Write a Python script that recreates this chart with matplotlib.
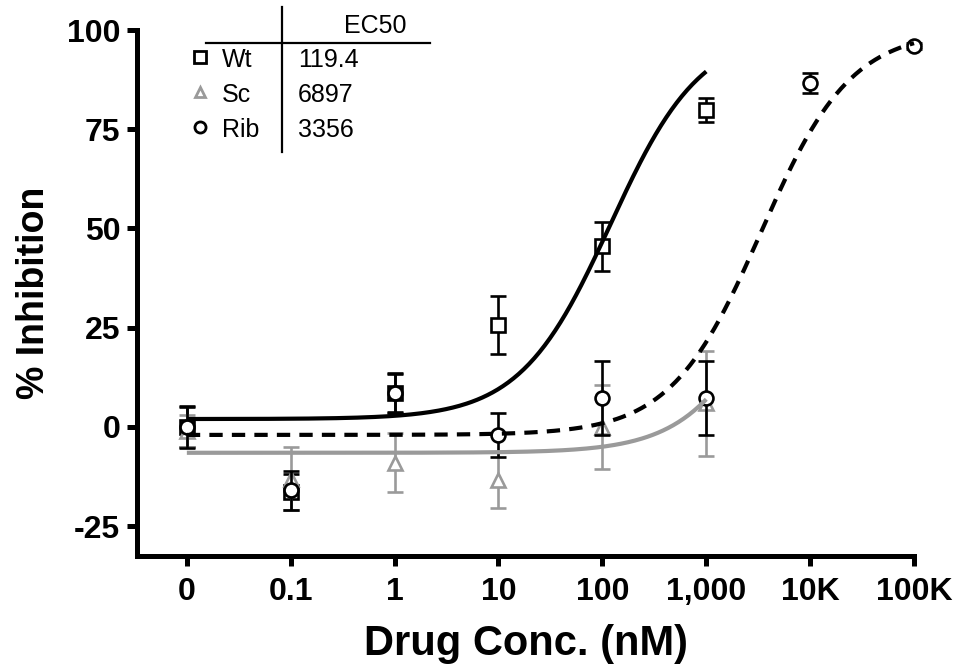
import numpy as np
import matplotlib
matplotlib.use("Agg")
import matplotlib.pyplot as plt
from matplotlib.lines import Line2D

# ---------------- data ----------------
conc = [0.01, 0.1, 1, 10, 100, 1000, 1e4, 1e5]          # "0" plotted at 0.01
tick_labels = ["0", "0.1", "1", "10", "100", "1,000", "10K", "100K"]

wt_conc = [0.01, 0.1, 1, 10, 100, 1000]
wt_mean = [0.0, -16.4, 8.5, 25.7, 45.5, 79.8]
wt_err = [5.0, 4.6, 4.8, 7.2, 6.2, 3.0]

sc_conc = [0.01, 0.1, 1, 10, 100, 1000]
sc_mean = [-1.0, -13.0, -9.0, -13.4, 0.0, 6.0]
sc_err = [4.0, 8.0, 7.5, 7.0, 10.5, 13.2]

rib_conc = [0.01, 0.1, 1, 10, 100, 1000, 1e4, 1e5]
rib_mean = [0.0, -16.0, 8.5, -2.0, 7.2, 7.3, 86.6, 96.0]
rib_err = [5.2, 4.8, 5.0, 5.6, 9.3, 9.3, 2.5, 0.8]

names = ["Wt", "Sc", "Rib"]
ec50 = [119.4, 6897, 3356]
ec50_text = ["119.4", "6897", "3356"]
fit_bottom = [2.0, -6.5, -2.0]
fit_top = [100.0, 100.0, 100.0]
fit_hill = [1.0, 1.0, 1.0]
fit_max_conc = [1000, 1000, 1e5]

# ---------------- style ----------------
GRAY = "#9a9a9a"
colors = ["black", GRAY, "black"]
markers = ["s", "^", "o"]
linestyles = ["-", "-", (0, (3.2, 2.2))]

W, H = 963, 672
fig = plt.figure(figsize=(W / 100, H / 100), dpi=100)
L, R, T, B = 137, 914, 30, 556
ax = fig.add_axes([L / W, 1 - B / H, (R - L) / W, (B - T) / H])

bold_font = ["Liberation Sans", "DejaVu Sans"]
reg_font = ["Liberation Sans", "DejaVu Sans"]

def logistic(x, b, t, ec, h):
    return b + (t - b) / (1 + 10 ** ((np.log10(ec) - np.log10(x)) * h))

series = [(sc_conc, sc_mean, sc_err, 1), (rib_conc, rib_mean, rib_err, 2), (wt_conc, wt_mean, wt_err, 0)]
for xs, ys, es, i in series:
    cont = ax.errorbar(xs, ys, yerr=es, fmt=markers[i], color=colors[i], mfc="white",
                       mec=colors[i], ms=10 if i != 1 else 10.5, mew=1.9, ecolor=colors[i],
                       elinewidth=1.9, capsize=6, capthick=1.9, zorder=3 + i)
    for art in cont.get_children():
        art.set_clip_on(False)
    xx = np.logspace(-2, np.log10(fit_max_conc[i]), 300)
    ax.plot(xx, logistic(xx, fit_bottom[i], fit_top[i], ec50[i], fit_hill[i]),
            color=colors[i], lw=3.0, ls=linestyles[i], zorder=6 + i,
            solid_capstyle="butt", dash_capstyle="butt", clip_on=False)

ax.set_xscale("log")
ax.set_xlim(10 ** -2.48, 1e5)
ax.set_ylim(-32.5, 100)
ax.set_xticks(conc)
ax.set_xticklabels(tick_labels)
ax.minorticks_off()
ax.set_yticks([-25, 0, 25, 50, 75, 100])
ax.set_yticklabels(["-25", "0", "25", "50", "75", "100"])
for s in ["top", "right"]:
    ax.spines[s].set_visible(False)
for s in ["left", "bottom"]:
    ax.spines[s].set_linewidth(3.6)
    ax.spines[s].set_capstyle("projecting")
ax.tick_params(axis="both", direction="out", length=7, width=3.6, pad=5)
ax.tick_params(axis="x", pad=8)
for lab in ax.get_xticklabels() + ax.get_yticklabels():
    lab.set_fontfamily(bold_font)
    lab.set_fontweight("bold")
    lab.set_fontsize(23)
ax.set_xlabel("Drug Conc. (nM)", fontfamily=bold_font, fontweight="bold", fontsize=30, labelpad=12)
ax.set_ylabel("% Inhibition", fontfamily=bold_font, fontweight="bold", fontsize=27, labelpad=11)

# ---------------- legend table (figure pixel coords) ----------------
def fx(x):
    return x / W

def fy(y):
    return 1 - y / H

fig.add_artist(Line2D([fx(282), fx(282)], [fy(7), fy(152)], color="black", lw=1.6))
fig.add_artist(Line2D([fx(206), fx(430)], [fy(43), fy(43)], color="black", lw=1.6))
fig.text(fx(375), fy(26), "EC50", ha="center", va="center", fontsize=18, fontfamily=reg_font)
row_y = [60, 95, 130]
for i in range(3):
    fig.add_artist(Line2D([fx(200)], [fy(row_y[i] - 3)], marker=markers[i], ms=8 if i != 1 else 7,
                          mfc="white", mec=colors[i], mew=2.0, ls="none"))
    fig.text(fx(222), fy(row_y[i]), names[i], ha="left", va="center", fontsize=18, fontfamily=reg_font)
    fig.text(fx(298), fy(row_y[i]), ec50_text[i], ha="left", va="center", fontsize=18, fontfamily=reg_font)

fig.savefig("out.png", dpi=100)
